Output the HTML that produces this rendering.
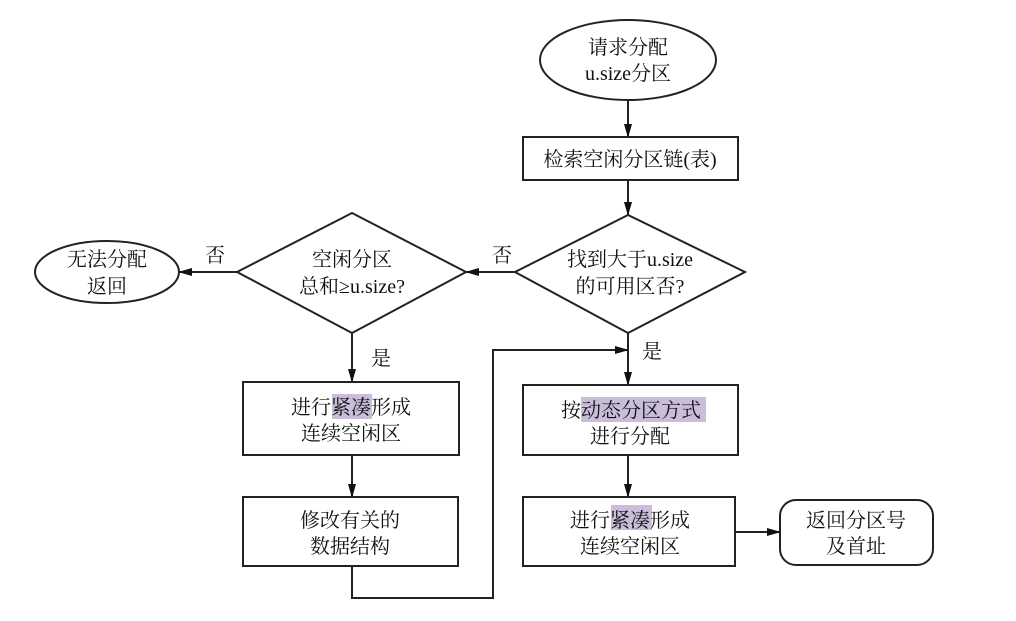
<!DOCTYPE html>
<html><head><meta charset="utf-8"><style>
body{margin:0;background:#fff}
svg text{font-family:"Liberation Serif","Noto Serif CJK SC",serif;font-size:20px;fill:#111;text-anchor:middle}
</style></head><body>
<svg width="1016" height="616" viewBox="0 0 1016 616" xmlns="http://www.w3.org/2000/svg">
<defs><marker id="a" markerWidth="14" markerHeight="8" refX="13" refY="4" orient="auto" markerUnits="userSpaceOnUse"><path d="M0,0 L14,4 L0,8 Z" fill="#111"/></marker></defs>
<g stroke="#222" stroke-width="2" fill="none">
<ellipse cx="628" cy="60" rx="88" ry="40"/>
<rect x="523" y="137" width="215" height="43"/>
<polygon points="515,272 628,215 745,272 628,333"/>
<polygon points="237,272 352,213 466,272 352,333"/>
<ellipse cx="107" cy="272" rx="72" ry="31"/>
<rect x="243" y="382" width="216" height="73"/>
<rect x="243" y="497" width="215" height="69"/>
<rect x="523" y="385" width="215" height="70"/>
<rect x="523" y="497" width="212" height="69"/>
<rect x="780" y="500" width="153" height="65" rx="16"/>
<line x1="628" y1="100" x2="628" y2="137" marker-end="url(#a)"/>
<line x1="628" y1="180" x2="628" y2="215" marker-end="url(#a)"/>
<line x1="515" y1="272" x2="466" y2="272" marker-end="url(#a)"/>
<line x1="237" y1="272" x2="179" y2="272" marker-end="url(#a)"/>
<line x1="352" y1="333" x2="352" y2="382" marker-end="url(#a)"/>
<line x1="628" y1="333" x2="628" y2="385" marker-end="url(#a)"/>
<line x1="352" y1="455" x2="352" y2="497" marker-end="url(#a)"/>
<line x1="628" y1="455" x2="628" y2="497" marker-end="url(#a)"/>
<line x1="735" y1="532" x2="780" y2="532" marker-end="url(#a)"/>
<polyline points="352,566 352,598 493,598 493,350 628,350" marker-end="url(#a)"/>
</g>
<rect x="332" y="394" width="40" height="25" fill="#c9bdd9"/>
<rect x="581" y="397" width="125" height="25" fill="#c9bdd9"/>
<rect x="611" y="505" width="41" height="25" fill="#c9bdd9"/>
<text x="628" y="54">请求分配</text><text x="628" y="80">u.size分区</text>
<text x="630" y="166">检索空闲分区链(表)</text>
<text x="630" y="266">找到大于u.size</text><text x="630" y="293">的可用区否?</text>
<text x="352" y="266">空闲分区</text><text x="352" y="293">总和≥u.size?</text>
<text x="107" y="266">无法分配</text><text x="107" y="293">返回</text>
<text x="215" y="262">否</text><text x="502" y="262">否</text>
<text x="381" y="365">是</text><text x="652" y="358">是</text>
<text x="351" y="414">进行紧凑形成</text><text x="351" y="440">连续空闲区</text>
<text x="350" y="527">修改有关的</text><text x="350" y="553">数据结构</text>
<text x="631" y="417">按动态分区方式</text><text x="630" y="443">进行分配</text>
<text x="630" y="527">进行紧凑形成</text><text x="630" y="553">连续空闲区</text>
<text x="856" y="527">返回分区号</text><text x="856" y="553">及首址</text>
</svg>
</body></html>
